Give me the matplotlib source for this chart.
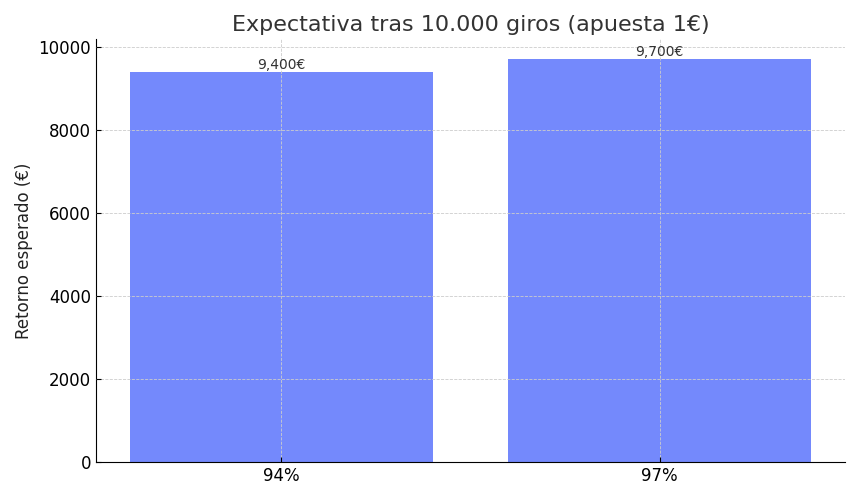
import matplotlib
matplotlib.use("Agg")
import matplotlib.pyplot as plt

categories = ["94%", "97%"]
values = [9400, 9700]
value_labels = ["9,400€", "9,700€"]

fig = plt.figure(figsize=(8.6, 5), dpi=100)
ax = fig.add_axes([0.1116, 0.076, 0.871, 0.846])
bars = ax.bar(categories, values, width=0.8, color="#7489FC")
ax.set_axisbelow(False)
ax.grid(True, linestyle="--", linewidth=0.6, color="#cccccc")
for b, lab in zip(bars, value_labels):
    ax.text(b.get_x() + b.get_width() / 2, b.get_height(), lab,
            ha="center", va="bottom", fontsize=10, color="#333333")
ax.set_title("Expectativa tras 10.000 giros (apuesta 1€)", fontsize=16, color="#333333", pad=6)
ax.set_ylabel("Retorno esperado (€)", fontsize=12, color="#222222")
ax.tick_params(direction="in", labelsize=12)
ax.spines["top"].set_visible(False)
ax.spines["right"].set_visible(False)
fig.savefig("out.png", dpi=100)
